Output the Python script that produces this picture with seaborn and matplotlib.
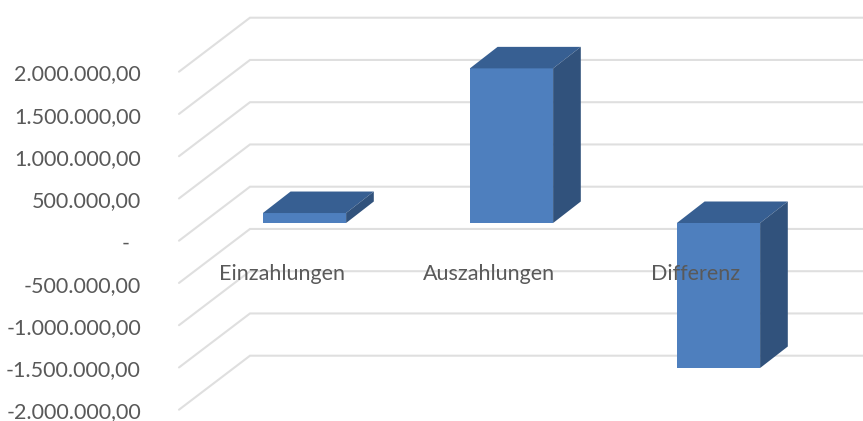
import matplotlib
matplotlib.use("Agg")
import matplotlib.pyplot as plt
from matplotlib.transforms import Affine2D
import numpy as np
import pandas as pd
import seaborn as sns

categories = ["Einzahlungen", "Auszahlungen", "Differenz"]
values = [118000, 1830000, -1716000]
grid_values = [2000000, 1500000, 1000000, 500000, 0, -500000, -1000000, -1500000, -2000000]
tick_labels = ["2.000.000,00", "1.500.000,00", "1.000.000,00", "500.000,00", "-  ",
               "-500.000,00", "-1.000.000,00", "-1.500.000,00", "-2.000.000,00"]

FRONT, TOP, SIDE = "#4E7FBE", "#375F92", "#31527C"
GRID, TEXT = "#DFDFDF", "#595959"

sns.set_theme(style="white")
plt.rcParams["font.family"] = ["Lato", "DejaVu Sans"]

W, H = 863, 421
fig = plt.figure(figsize=(W / 100, H / 100), dpi=100)
ax = fig.add_axes([0, 0, 1, 1])

PX_X = 207.0          # px per category
PX_Y = 84.5 / 1e6     # px per unit value
df = pd.DataFrame({"cat": categories, "val": values})
sns.barplot(data=df, x="cat", y="val", order=categories, color=FRONT, saturation=1,
            width=0.402, errorbar=None, ax=ax, zorder=3, linewidth=0)

ax.set_xlim(-304.5 / PX_X, (W - 304.5) / PX_X)
ax.set_ylim(-198 / PX_Y / 1e0, 223 / PX_Y)
x0, x1 = ax.get_xlim()

# wall and floor gridlines, projected
wall_dx, wall_dy = 71 / PX_X, 54 / PX_Y
front_shift = -17.7 / PX_Y
left = x0 + 179 / PX_X
for v in grid_values:
    ax.plot([left, left + wall_dx, x1],
            [v + front_shift, v + front_shift + wall_dy, v + front_shift + wall_dy],
            color=GRID, lw=1.5, zorder=1, solid_joinstyle="miter")

# 3-D faces of the bars
dx, dy = 27.7 / PX_X, 21.5 / PX_Y
hw = 0.201
for i, v in enumerate(values):
    lo, hi = min(v, 0), max(v, 0)
    ax.fill([i - hw, i + hw, i + hw + dx, i - hw + dx],
            [hi, hi, hi + dy, hi + dy], color=TOP, lw=0, zorder=3)
    ax.fill([i + hw, i + hw + dx, i + hw + dx, i + hw],
            [lo, lo + dy, hi + dy, hi], color=SIDE, lw=0, zorder=3)

ax.set_xlabel("")
ax.set_ylabel("")
ax.set_yticks(grid_values)
ax.set_yticklabels(tick_labels)
ax.tick_params(axis="y", length=0, pad=-101.5, labelsize=15.5, labelcolor=TEXT)
ax.tick_params(axis="x", length=0, pad=-113, labelsize=15.5, labelcolor=TEXT)
for lab in ax.get_yticklabels():
    lab.set_transform(lab.get_transform() + Affine2D().translate(0, -18.5))
for lab in ax.get_xticklabels():
    lab.set_transform(lab.get_transform() + Affine2D().translate(-23, 0))
ax.xaxis.set_zorder(6)
ax.yaxis.set_zorder(6)
sns.despine(ax=ax, left=True, bottom=True)
fig.savefig("out.png", dpi=100)
